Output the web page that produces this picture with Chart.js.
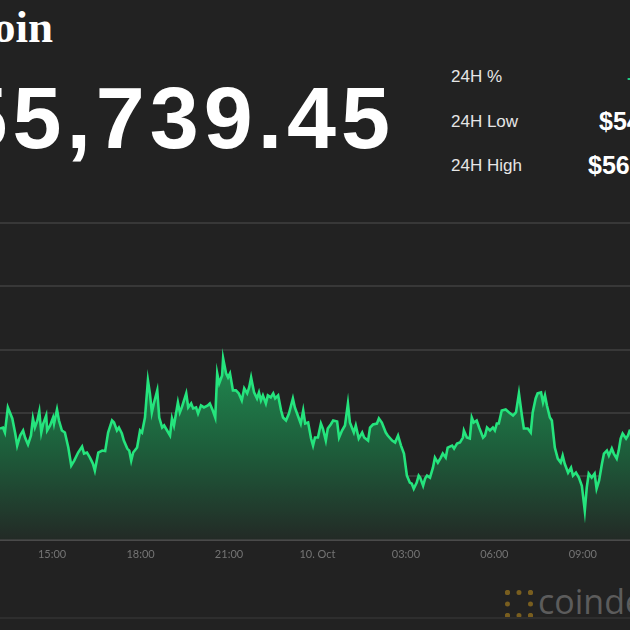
<!DOCTYPE html>
<html>
<head>
<meta charset="utf-8">
<script src="https://cdn.jsdelivr.net/npm/chart.js@4/dist/chart.umd.min.js"></script>
<style>
  html, body { margin: 0; padding: 0; }
  body { width: 630px; height: 630px; overflow: hidden; background: #222222; position: relative; font-family: "Liberation Sans", Arial, sans-serif; }
  .abs { position: absolute; white-space: nowrap; }
  #title { right: 577px; top: 5px; font: bold 45px/1 "Liberation Serif", serif; color: #fff; text-align: right; }
  #price { right: 235px; top: 74px; font: bold 88px/1 "Liberation Sans", Arial, sans-serif; color: #fff; text-align: right; letter-spacing: 5px; }
  .lbl { left: 451px; font: 17px/1 "Liberation Sans", Arial, sans-serif; color: #e6e6e6; }
  .val { font: bold 25px/1 "Liberation Sans", Arial, sans-serif; color: #fff; }
  #chg { left: 627px; top: 70px; font: bold 18px/1 "Liberation Sans", Arial, sans-serif; color: #21c97a; }
  #wrap { position: absolute; left: 0; top: 213px; width: 630px; height: 352px; }
  #logo-icon { left: 505px; top: 590px; width: 18px; height: 18px; border: 5px dotted rgba(150,115,30,0.75); }
  #logo-text { left: 538px; top: 584px; font: 34px/1 "Open Sans", sans-serif; color: #5c5c5c; }
  #rule { left: 0; top: 617px; width: 630px; height: 2px; background: #2e2e2e; }
</style>
</head>
<body>
<div id="title" class="abs">Bitcoin</div>
<div id="price" class="abs">$55,739.45</div>
<div class="abs lbl" style="top:68px">24H %</div>
<div class="abs lbl" style="top:113px">24H Low</div>
<div class="abs lbl" style="top:157px">24H High</div>
<div id="chg" class="abs">+1.32%</div>
<div class="abs val" style="left:599px; top:109px">$54,459.03</div>
<div class="abs val" style="left:588px; top:153px">$56,864.19</div>
<div id="wrap"><canvas id="priceChart" width="630" height="352"></canvas></div>
<div id="logo-icon" class="abs"></div>
<div id="logo-text" class="abs">coindesk</div>
<div id="rule" class="abs"></div>
<script>
// Oct 9 13:14 -> Oct 10 10:36, BTC/USD
const times = [
  "13:14","13:20","13:24","13:30","13:39","13:45","13:49","13:55",
  "14:01","14:05","14:11","14:17","14:21","14:25","14:30","14:34","14:38","14:42","14:48","14:50","14:56",
  "15:02","15:04","15:10","15:14","15:20","15:26","15:33","15:39","15:45","15:53",
  "16:01","16:05","16:11","16:17","16:23","16:27","16:34","16:42","16:48","16:54",
  "17:02","17:06","17:12","17:16","17:22","17:26","17:33","17:37","17:41","17:45","17:53","17:59",
  "18:03","18:09","18:15","18:19","18:23","18:27","18:34","18:38","18:44","18:48","18:54",
  "19:00","19:04","19:08","19:16","19:20","19:24","19:33","19:37","19:43","19:47","19:53","19:57",
  "20:03","20:09","20:17","20:21","20:27","20:32","20:36","20:40","20:46","20:48","20:54","20:58",
  "21:02","21:08","21:14","21:20","21:26","21:31","21:37","21:41","21:45","21:51","21:57",
  "22:01","22:05","22:09","22:15","22:19","22:25","22:30","22:34","22:40","22:46","22:50","22:56",
  "23:02","23:10","23:14","23:20","23:26","23:31","23:35","23:41","23:47","23:51","23:55",
  "00:01","00:07","00:11","00:17","00:21","00:27","00:32","00:40","00:44","00:50","00:56",
  "01:02","01:06","01:10","01:14","01:18","01:24","01:31","01:35","01:43","01:47","01:53",
  "02:01","02:05","02:11","02:19","02:23","02:32","02:38","02:44","02:50","02:56",
  "03:02","03:08","03:12","03:16","03:22","03:26","03:29","03:35","03:39","03:43","03:49","03:55","03:59",
  "04:05","04:11","04:15","04:21","04:25","04:34","04:38","04:44","04:50","04:56","04:58",
  "05:04","05:10","05:14","05:18","05:24","05:29","05:37","05:41","05:45","05:51","05:57",
  "06:01","06:05","06:09","06:15","06:23","06:30","06:38","06:44","06:50","06:56",
  "07:00","07:08","07:14","07:18","07:24","07:28","07:35","07:39","07:43","07:47","07:53","07:57",
  "08:01","08:03","08:09","08:15","08:19","08:23","08:30","08:36","08:40","08:46","08:52","08:58",
  "09:04","09:08","09:12","09:18","09:24","09:28","09:33","09:39","09:43","09:49","09:53","09:59",
  "10:03","10:09","10:13","10:17","10:21","10:28","10:32","10:36"
];
const prices = [
  55756,55772,55693,56089,55915,55677,55487,55646,
  55725,55614,55503,55646,55915,55772,55883,56025,55693,55835,55962,55725,55804,
  55930,55835,56057,55883,55725,55693,55456,55171,55250,55377,
  55472,55361,55377,55297,55203,55092,55377,55408,55400,55693,
  55883,55851,55725,55772,55677,55566,55440,55408,55250,55377,55456,55725,
  55693,55930,56516,56310,56010,56152,56358,55930,55772,55804,55725,
  55646,55915,55804,56168,56010,56089,56310,56089,56152,56073,56089,55994,
  56120,56089,56120,56152,56041,55930,56627,56468,56595,56864,56627,56563,
  56627,56358,56358,56310,56199,56389,56310,56405,56563,56326,56231,
  56326,56199,56279,56152,56279,56247,56310,56231,56279,56041,55930,55883,
  55994,56231,56089,55962,55835,56041,55835,55851,55598,55487,55614,
  55614,55835,55756,55566,55756,55820,55883,55867,55614,55725,55804,
  56152,55851,55772,55693,55804,55598,55693,55614,55566,55772,55820,
  55835,55915,55851,55693,55646,55566,55535,55646,55487,55361,
  55013,54902,54886,54807,54902,55013,54981,54854,54965,55013,54981,55139,55297,
  55218,55297,55361,55297,55456,55487,55440,55519,55535,55614,55725,
  55614,55598,55930,55851,55883,55772,55614,55646,55772,55725,55772,
  55725,55835,55835,56041,56057,56010,55962,56010,56310,55962,
  55756,55756,55693,56010,56231,56310,56326,56168,56279,56120,55930,55883,
  55598,55456,55282,55218,55329,55203,55060,55139,55013,55060,54981,54854,
  54459,54823,55044,54981,55044,54807,54934,55203,55361,55408,55329,55440,
  55361,55282,55408,55598,55677,55598,55646,55739
];
const tickHours = [15, 18, 21, 24, 27, 30, 33];
const tickLabels = ["15:00", "18:00", "21:00", "10. Oct", "03:00", "06:00", "09:00"];
const yMin = 54000, yMax = 59000, yStep = 1000;

// hours since Oct 9 00:00, rolling over midnight
let dayOffset = 0, prev = -1;
const points = times.map((t, i) => {
  const [h, m] = t.split(":").map(Number);
  let hrs = h + m / 60;
  if (hrs < prev) dayOffset += 24;
  prev = hrs;
  return { x: hrs + dayOffset, y: prices[i] };
});

const ctx = document.getElementById("priceChart").getContext("2d");
const priceChart = new Chart(ctx, {
  type: "line",
  data: {
    datasets: [{
      data: points,
      borderColor: "#25e47d",
      borderWidth: 2.6,
      pointRadius: 0,
      tension: 0,
      fill: "start",
      backgroundColor: (c) => {
        const area = c.chart.chartArea;
        if (!area) return "rgba(30,120,70,0.6)";
        const g = c.chart.ctx.createLinearGradient(0, area.top + 135, 0, area.bottom);
        g.addColorStop(0, "#208a50");
        g.addColorStop(0.5, "#1d5e3b");
        g.addColorStop(1, "#232a26");
        return g;
      },
    }],
  },
  options: {
    responsive: false,
    animation: false,
    layout: { padding: { top: 10, bottom: 4, left: 0, right: 0 } },
    plugins: { legend: { display: false }, tooltip: { enabled: false } },
    scales: {
      x: {
        type: "linear",
        min: points[0].x,
        max: points[points.length - 1].x,
        afterBuildTicks: (scale) => { scale.ticks = tickHours.map(v => ({ value: v })); },
        ticks: {
          autoSkip: false,
          maxRotation: 0,
          padding: 0,
          color: "#747474",
          font: { family: "Lato", size: 11 },
          callback: (v) => tickLabels[tickHours.indexOf(v)],
        },
        grid: { display: false },
        border: { display: true, color: "#4a4a4a", width: 2 },
      },
      y: {
        min: yMin,
        max: yMax,
        ticks: { display: false, stepSize: yStep },
        grid: { color: "#383838", lineWidth: 2, drawTicks: false },
        border: { display: false },
      },
    },
  },
});
</script>
</body>
</html>
